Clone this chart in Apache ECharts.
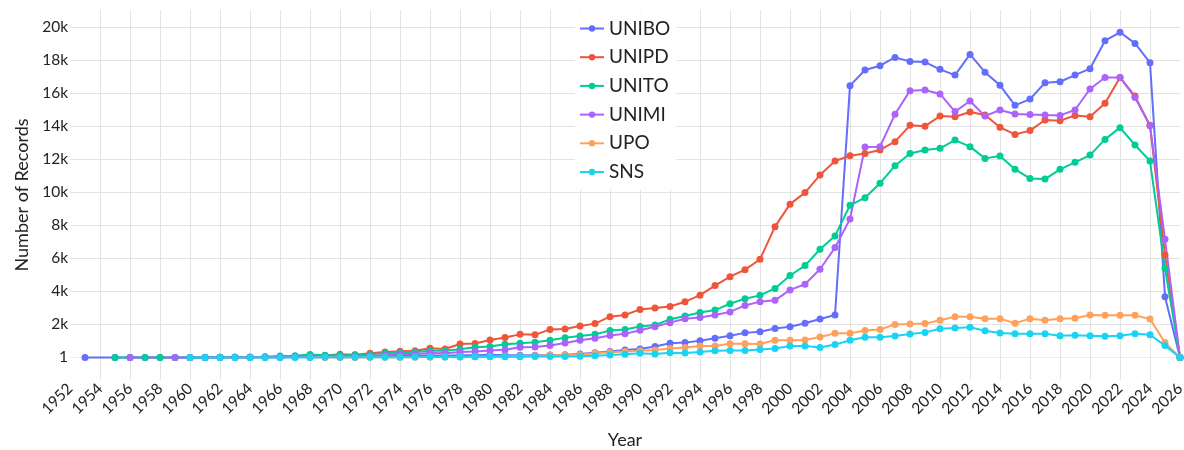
<!DOCTYPE html>
<html>
<head>
<meta charset="utf-8">
<script src="https://cdn.jsdelivr.net/npm/echarts@6/dist/echarts.min.js"></script>
<style>
html,body{margin:0;padding:0;background:#fff;}
#chart{width:1184px;height:450px;}
</style>
</head>
<body>
<div id="chart"></div>
<script>
const years = [1953,1954,1955,1956,1957,1958,1959,1960,1961,1962,1963,1964,1965,1966,1967,1968,1969,1970,1971,1972,1973,1974,1975,1976,1977,1978,1979,1980,1981,1982,1983,1984,1985,1986,1987,1988,1989,1990,1991,1992,1993,1994,1995,1996,1997,1998,1999,2000,2001,2002,2003,2004,2005,2006,2007,2008,2009,2010,2011,2012,2013,2014,2015,2016,2017,2018,2019,2020,2021,2022,2023,2024,2025,2026];

const UNIBO = [1,null,2,3,3,4,5,5,6,8,10,12,15,20,25,30,40,50,60,70,85,110,100,120,110,130,140,160,130,140,140,150,170,210,290,370,450,510,660,860,900,1020,1170,1320,1490,1560,1750,1860,2070,2330,2570,16450,17400,17660,18160,17920,17880,17440,17090,18340,17270,16470,15260,15640,16630,16690,17090,17480,19170,19680,19010,17840,3680,1];

const UNIPD = [null,null,null,null,null,null,null,5,8,10,15,20,30,50,70,100,120,190,170,260,330,380,410,560,510,820,850,1060,1210,1400,1370,1700,1730,1900,2050,2470,2570,2910,2990,3090,3370,3770,4350,4890,5310,5940,7920,9280,9980,11040,11890,12210,12350,12560,13060,14050,14000,14610,14570,14860,14670,13930,13500,13730,14370,14330,14650,14570,15380,16950,15820,14050,6200,1];

const UNITO = [null,null,1,2,1,2,3,5,6,8,10,20,40,90,100,180,130,140,150,200,250,300,330,410,410,500,620,660,800,860,920,1050,1200,1300,1400,1630,1690,1870,1970,2310,2510,2720,2870,3250,3560,3760,4180,4960,5560,6550,7360,9210,9670,10540,11610,12350,12560,12660,13160,12760,12050,12190,11390,10840,10800,11390,11810,12250,13200,13910,12860,11890,5400,1];

const UNIMI = [null,null,null,1,null,null,1,2,3,5,8,10,15,20,30,40,50,60,80,110,140,210,210,270,250,330,370,430,470,620,640,720,880,1040,1160,1330,1430,1650,1860,2110,2340,2420,2570,2760,3150,3380,3460,4090,4430,5340,6650,8380,12740,12760,14720,16150,16190,15950,14880,15520,14610,14980,14740,14700,14670,14650,14980,16250,16950,16950,15740,14030,7150,1];

const UPO = [null,null,null,null,null,null,null,null,null,null,null,null,null,null,null,1,2,3,5,8,10,15,20,25,30,40,50,60,70,90,110,130,150,170,250,320,370,410,450,550,600,690,700,830,830,820,1050,1050,1060,1240,1460,1460,1640,1700,2000,2030,2050,2250,2470,2470,2350,2350,2070,2350,2250,2350,2370,2570,2550,2550,2550,2330,900,1];

const SNS = [null,null,null,null,null,null,null,1,1,2,2,3,3,4,5,6,8,10,12,15,18,20,25,30,30,35,40,45,50,50,55,60,60,70,110,150,200,250,210,290,270,330,410,430,430,490,550,700,700,610,780,1040,1220,1220,1300,1420,1520,1740,1790,1830,1620,1480,1440,1440,1440,1320,1340,1320,1280,1320,1440,1380,720,1];

const seriesNames = ['UNIBO','UNIPD','UNITO','UNIMI','UPO','SNS'];
const seriesValues = [UNIBO, UNIPD, UNITO, UNIMI, UPO, SNS];
const colors = ['#636efa','#EF553B','#00cc96','#ab63fa','#FFA15A','#19d3f3'];
const yTicks = [0,2000,4000,6000,8000,10000,12000,14000,16000,18000,20000];

const FONT = 'Lato, "Noto Sans", sans-serif';
const chart = echarts.init(document.getElementById('chart'), null, {renderer:'canvas'});

const series = seriesNames.map((name, i) => ({
  name: name,
  type: 'line',
  data: years.map((y, k) => [y, seriesValues[i][k]]),
  connectNulls: true,
  symbol: 'circle',
  symbolSize: 7,
  showSymbol: true,
  lineStyle: {width: 2, color: colors[i]},
  itemStyle: {color: colors[i]},
  emphasis: {disabled: true}
}));

chart.setOption({
  animation: false,
  color: colors,
  textStyle: {fontFamily: FONT},
  grid: {left: 70, right: 4, top: 10, bottom: 70, containLabel: false, outerBoundsMode: 'none'},
  legend: {
    orient: 'vertical',
    left: 575,
    top: 11,
    padding: [8, 6, 8, 4],
    backgroundColor: '#ffffff',
    itemWidth: 24,
    itemHeight: 8,
    itemGap: 9.7,
    textStyle: {fontSize: 19, color: '#222', fontFamily: FONT},
    data: seriesNames
  },
  xAxis: {
    type: 'value',
    min: 1952,
    max: 2026,
    interval: 2,
    name: 'Year',
    nameLocation: 'middle',
    nameGap: 51,
    nameTextStyle: {fontSize: 18, color: '#222', fontFamily: FONT},
    axisLine: {show: false},
    axisTick: {show: false},
    axisLabel: {rotate: 45, fontSize: 15.5, color: '#222', margin: 6, fontFamily: FONT,
      formatter: v => String(v)},
    splitLine: {show: true, showMinLine: false, showMaxLine: false, lineStyle: {color: '#e3e3e3', width: 1}}
  },
  yAxis: {
    type: 'value',
    min: -1362,
    max: 21030,
    name: 'Number of Records',
    nameLocation: 'middle',
    nameGap: 38,
    nameTextStyle: {fontSize: 18, color: '#222', fontFamily: FONT},
    axisLine: {show: false},
    axisTick: {show: false, customValues: yTicks},
    axisLabel: {fontSize: 15.5, color: '#222', margin: 2, fontFamily: FONT, customValues: yTicks,
      formatter: v => v === 0 ? '1' : (v / 1000) + 'k'},
    splitLine: {show: true, lineStyle: {color: ['#e8eef6','#e3e3e3','#e3e3e3','#e3e3e3','#e3e3e3','#e3e3e3','#e3e3e3','#e3e3e3','#e3e3e3','#e3e3e3','#e3e3e3'], width: 1}}
  },
  series: series
});
</script>
</body>
</html>
